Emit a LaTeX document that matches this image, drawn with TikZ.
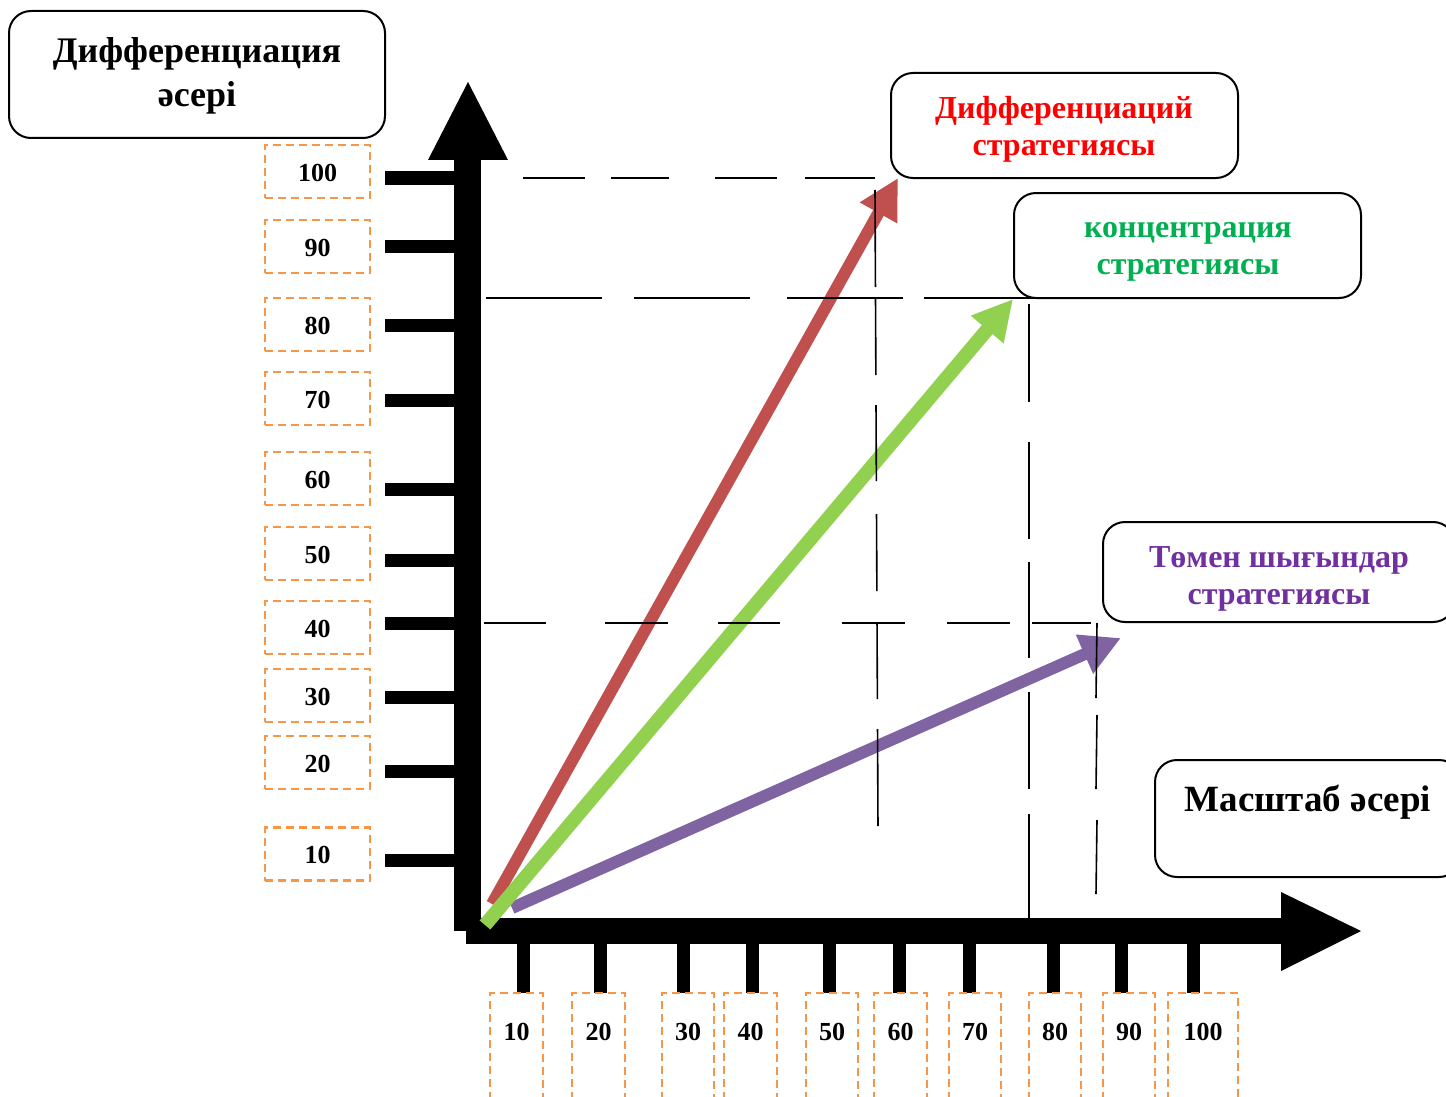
\documentclass[tikz,border=0pt]{standalone}
\usepackage{fontspec}
\setmainfont{Liberation Serif}
\usetikzlibrary{arrows.meta}
\definecolor{arrred}{HTML}{C0504D}
\definecolor{arrgreen}{HTML}{92D050}
\definecolor{arrpurple}{HTML}{8064A2}
\definecolor{orangeD}{HTML}{F79646}
\definecolor{txtred}{HTML}{FF0000}
\definecolor{txtgreen}{HTML}{00B050}
\definecolor{txtpurple}{HTML}{7030A0}
\begin{document}
\begin{tikzpicture}[x=1pt,y=-1pt,
  rbox/.style={draw=black, line width=2pt, rounded corners=22pt, inner sep=0pt},
  stxt/.style={align=center, inner sep=0pt, font=\bfseries\fontsize{32}{37}\selectfont},
  bigtxt/.style={align=center, inner sep=0pt, font=\bfseries\fontsize{36}{44}\selectfont},
  obox/.style={draw=orangeD, line width=2.8pt, dash pattern=on 8pt off 5pt, inner sep=0pt},
  numtxt/.style={font=\bfseries\fontsize{26}{30}\selectfont, inner sep=0pt},
  guide/.style={draw=black, line width=1.6pt},
  stratarrow/.style={line width=12pt, -{Triangle[length=40pt,width=40pt]}}
]
\useasboundingbox (0,0) rectangle (1446,1097);
\clip (0,0) rectangle (1446,1097);

% ---- axes ----
\fill[black] (454,160) rectangle (481,931);
\fill[black] (428,160) -- (508,160) -- (468,82) -- cycle;
\fill[black] (466,918) rectangle (1281,944);
\fill[black] (1281,892) -- (1281,971) -- (1361,931) -- cycle;

% ---- vertical ticks and labels ----
\foreach \v/\ty/\by in {100/178/171.5, 90/246/246.5, 80/325/324.5, 70/400/398.5, 60/489/478.5,
                        50/560/553.5, 40/623/627.5, 30/697/695.5, 20/771/762.5, 10/860/854}{
  \fill[black] (385,\ty-6.5) rectangle (454,\ty+6.5);
  \node[obox, minimum width=105pt, minimum height=53pt] (vb\v) at (317.5,\by) {};
  \node[numtxt] (vl\v) at ([yshift=-1pt]vb\v.center) {\v};
}

% ---- horizontal ticks and labels ----
\foreach \v/\tx/\xa/\xb in {10/523/490/543, 20/600/572/625, 30/683/662/714, 40/752/724/777,
                            50/829/806/858, 60/899/874/927, 70/969/949/1001, 80/1053/1029/1081,
                            90/1121/1103/1155, 100/1193/1168/1238}{
  \fill[black] (\tx-6.5,944) rectangle (\tx+6.5,993);
  \draw[obox] (\xa,1100) -- (\xa,993) -- (\xb,993) -- (\xb,1100);
  \node[numtxt] (hl\v) at ({(\xa+\xb)/2},1032) {\v};
}

% ---- boxes ----
\node[rbox, minimum width=376pt, minimum height=127pt] (ttl) at (197,74.5) {};
\node[bigtxt] (ttltxt) at (197,76) {Дифференциация\\әсері};
\node[rbox, minimum width=347pt, minimum height=105pt] (diff) at (1064.5,125.5) {};
\node[stxt, text=txtred] (difftxt) at (1064,129.5) {Дифференциаций\\стратегиясы};
\node[rbox, minimum width=347pt, minimum height=105pt] (conc) at (1187.5,245.5) {};
\node[stxt, text=txtgreen] (conctxt) at (1188,252) {концентрация\\стратегиясы};
\node[rbox, minimum width=352pt, minimum height=100pt] (low) at (1279,572) {};
\node[stxt, text=txtpurple] (lowtxt) at (1279,579) {Төмен шығындар\\стратегиясы};
\node[rbox, minimum width=306pt, minimum height=117pt] (scl) at (1308,818.5) {};
\node[inner sep=0pt, font=\bfseries\fontsize{37}{44}\selectfont] (scltxt) at (1308,802) {Масштаб әсері};

% ---- strategy arrows ----
\coordinate (o1) at (492,904);
\coordinate (o2) at (485,925);
\coordinate (o3) at (512,908);
\coordinate (t1) at (898,178);
\coordinate (t2) at (1013,299);
\coordinate (t3) at (1121,638);
\draw[stratarrow, draw=arrred, fill=arrred] (o1) -- (t1);
\draw[stratarrow, draw=arrpurple, fill=arrpurple] (o3) -- (t3);
\draw[stratarrow, draw=arrgreen, fill=arrgreen, line width=14pt] (o2) -- (t2);

% ---- dashed guide lines ----
\foreach \a/\b in {523/585, 611/669, 715/777, 805/875}
  \draw[guide] (\a,178) -- (\b,178);
\foreach \a/\b in {486/602, 634/750, 787/903, 924/1040}
  \draw[guide] (\a,298) -- (\b,298);
\foreach \a/\b in {484/546, 605/668, 718/780, 842/905, 947/1010, 1032/1091}
  \draw[guide] (\a,623) -- (\b,623);
\foreach \a/\b in {190/287, 298/375, 405/481, 514/591, 623/699, 729/826}
  \draw[guide] ({875+3*(\a-190)/640},\a) -- ({875+3*(\b-190)/640},\b);
\foreach \a/\b in {304/402, 442/539, 562/658, 692/789, 814/918}
  \draw[guide] (1029,\a) -- (1029,\b);
\foreach \a/\b in {623/698, 715/789, 820/894}
  \draw[guide] (1097,\a) -- (1096,\b);
\end{tikzpicture}
\end{document}
